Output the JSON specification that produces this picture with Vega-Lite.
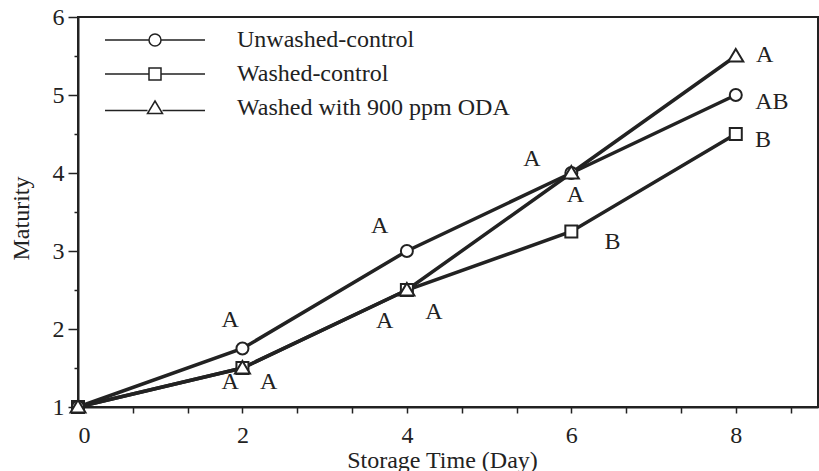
{
  "$schema": "https://vega.github.io/schema/vega-lite/v6.json",
  "width": 740,
  "height": 390,
  "autosize": "none",
  "padding": {"left": 78, "top": 17, "right": 1, "bottom": 64},
  "background": "white",
  "config": {
    "view": {"stroke": "#222", "strokeWidth": 2},
    "font": "Liberation Serif",
    "axis": {
      "domainColor": "#222", "domainWidth": 2,
      "tickColor": "#222", "tickWidth": 1.5,
      "labelColor": "#222", "labelFont": "Liberation Serif", "labelFontSize": 24,
      "titleFont": "Liberation Serif", "titleFontSize": 24, "titleFontWeight": "normal", "titleColor": "#222",
      "grid": false
    }
  },
  "datasets": {
    "series": [
      {"series": "Washed-control", "day": 0, "maturity": 1},
      {"series": "Washed-control", "day": 2, "maturity": 1.5},
      {"series": "Washed-control", "day": 4, "maturity": 2.5},
      {"series": "Washed-control", "day": 6, "maturity": 3.25},
      {"series": "Washed-control", "day": 8, "maturity": 4.5},
      {"series": "Unwashed-control", "day": 0, "maturity": 1},
      {"series": "Unwashed-control", "day": 2, "maturity": 1.75},
      {"series": "Unwashed-control", "day": 4, "maturity": 3},
      {"series": "Unwashed-control", "day": 6, "maturity": 4},
      {"series": "Unwashed-control", "day": 8, "maturity": 5},
      {"series": "Washed with 900 ppm ODA", "day": 0, "maturity": 1},
      {"series": "Washed with 900 ppm ODA", "day": 2, "maturity": 1.5},
      {"series": "Washed with 900 ppm ODA", "day": 4, "maturity": 2.5},
      {"series": "Washed with 900 ppm ODA", "day": 6, "maturity": 4},
      {"series": "Washed with 900 ppm ODA", "day": 8, "maturity": 5.5}
    ],
    "letters": [
      {"day": 1.85, "maturity": 2.12, "t": "A"},
      {"day": 1.85, "maturity": 1.32, "t": "A"},
      {"day": 2.32, "maturity": 1.32, "t": "A"},
      {"day": 3.67, "maturity": 3.32, "t": "A"},
      {"day": 3.73, "maturity": 2.10, "t": "A"},
      {"day": 4.33, "maturity": 2.22, "t": "A"},
      {"day": 5.52, "maturity": 4.18, "t": "A"},
      {"day": 6.05, "maturity": 3.72, "t": "A"},
      {"day": 6.50, "maturity": 3.12, "t": "B"},
      {"day": 8.35, "maturity": 5.51, "t": "A"},
      {"day": 8.44, "maturity": 4.91, "t": "AB"},
      {"day": 8.33, "maturity": 4.42, "t": "B"}
    ]
  },
  "encoding": {
    "x": {
      "field": "day", "type": "quantitative",
      "scale": {"domain": [0, 9], "nice": false, "zero": false},
      "axis": {
        "title": "Storage Time (Day)",
        "values": [0, 0.6667, 1.3333, 2, 2.6667, 3.3333, 4, 4.6667, 5.3333, 6, 6.6667, 7.3333, 8, 8.6667],
        "labelExpr": "abs(datum.value - round(datum.value)) < 0.01 ? format(datum.value, 'd') : ''",
        "tickSize": 6,
        "labelPadding": 10,
        "titleX": 364,
        "titleY": 41,
        "titleBaseline": "top"
      }
    },
    "y": {
      "field": "maturity", "type": "quantitative",
      "scale": {"domain": [1, 6], "nice": false, "zero": false},
      "axis": {
        "title": "Maturity",
        "values": [1, 1.5, 2, 2.5, 3, 3.5, 4, 4.5, 5, 5.5, 6],
        "labelExpr": "abs(datum.value - round(datum.value)) < 0.01 ? format(datum.value, 'd') : ''",
        "tickSize": {"condition": {"test": "datum.value % 1 == 0", "value": 10}, "value": 4},
        "labelPadding": 4,
        "titleX": -45,
        "titleY": 201
      }
    }
  },
  "resolve": {"scale": {"shape": "independent"}, "legend": {"shape": "independent"}},
  "layer": [
    {
      "data": {"name": "series"},
      "mark": {"type": "line", "color": "#222", "strokeWidth": 3.5},
      "encoding": {
        "detail": {"field": "series"},
        "order": {"field": "day"}
      }
    },
    {
      "data": {"name": "series"},
      "mark": {"type": "point", "filled": true, "fill": "white", "stroke": "#222", "strokeWidth": 2, "size": 100, "opacity": 1},
      "encoding": {
        "shape": {
          "field": "series", "type": "nominal",
          "scale": {
            "domain": ["Unwashed-control", "Washed-control", "Washed with 900 ppm ODA"],
            "range": [
              "M1.2,0A1.2,1.2 0 1,1 -1.2,0A1.2,1.2 0 1,1 1.2,0Z",
              "M-1.2,-1.2H1.2V1.2H-1.2Z",
              "M0,-1.4L1.5,1.1L-1.5,1.1Z"
            ]
          },
          "legend": null
        }
      }
    },
    {
      "data": {"name": "letters"},
      "mark": {"type": "text", "font": "Liberation Serif", "fontSize": 24, "color": "#222", "align": "center", "baseline": "middle"},
      "encoding": {
        "text": {"field": "t"}
      }
    },
    {
      "data": {"name": "series"},
      "transform": [{"filter": "false"}],
      "mark": {"type": "point", "filled": true, "fill": "white", "stroke": "#222", "strokeWidth": 3.2, "size": 100, "opacity": 1},
      "encoding": {
        "shape": {
          "field": "series", "type": "nominal",
          "scale": {
            "domain": ["Unwashed-control", "Washed-control", "Washed with 900 ppm ODA"],
            "range": [
              "M-10,0L-1.2,0M1.2,0L10,0M1.2,0A1.2,1.2 0 1,1 -1.2,0A1.2,1.2 0 1,1 1.2,0Z",
              "M-10,0L-1.2,0M1.2,0L10,0M-1.2,-1.2L1.2,-1.2L1.2,1.2L-1.2,1.2Z",
              "M-10,0.5L-1.5,0.5M1.5,0.5L10,0.5M0,-1.4L1.5,1.1L-1.5,1.1Z"
            ]
          },
          "legend": {
            "title": null,
            "orient": "none",
            "legendX": 65,
            "legendY": 11,
            "padding": 0,
            "labelFont": "Liberation Serif",
            "labelFontSize": 24,
            "labelColor": "#222",
            "labelOffset": 70,
            "labelLimit": 400,
            "symbolSize": 100,
            "rowPadding": 10
          }
        }
      }
    }
  ]
}
